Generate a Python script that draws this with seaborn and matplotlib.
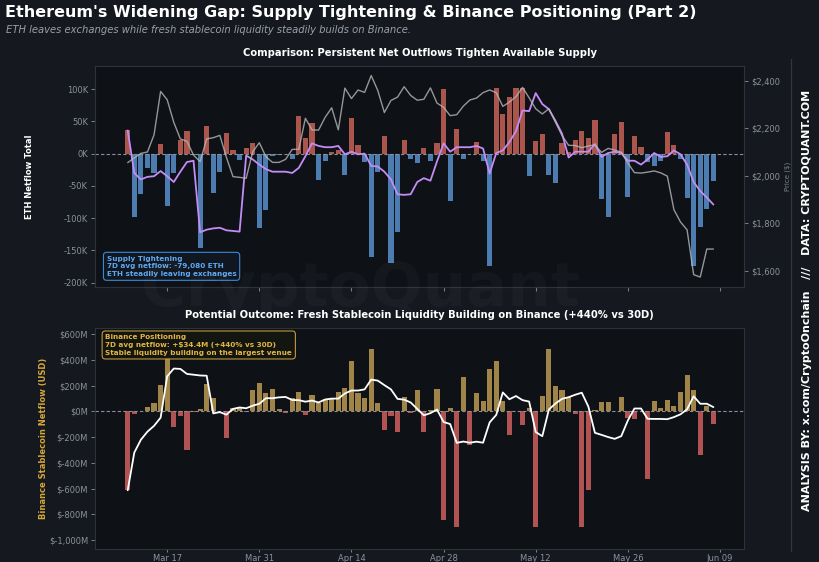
import numpy as np
import pandas as pd
import matplotlib
matplotlib.use("Agg")
import matplotlib.pyplot as plt
import matplotlib.dates as mdates
from matplotlib.ticker import FuncFormatter, FixedLocator
from matplotlib.lines import Line2D
import seaborn as sns

# ---------------- data ----------------
start_date = "2025-03-11"

# daily ETH exchange netflow (thousands of ETH)
eth_netflow_k = [37, -98, -62, -22, -30, 15, -81, -30, 21, 35,
                 -2, -147, 43, -61, -29, 32, 5, -10, 8, 17,
                 -115, -88, -3, -2, 0, -8, 58, 25, 48, -41,
                 -12, 2, 5, -33, 56, 14, -13, -160, -28, 27,
                 -170, -121, 21, -9, -15, 9, -12, 16, 101, -74,
                 39, -9, 0, 18, -11, -174, 102, 62, 88, 102,
                 102, -35, 20, 30, -33, -45, 16, 2, 21, 35,
                 24, 52, -71, -99, 31, 49, -67, 27, 10, -13,
                 -19, -11, 34, 13, -8, -69, -175, -114, -86, -42]

# 7D average ETH netflow (thousands of ETH)
eth_netflow_7d_k = [36, -30, -40, -36, -35, -27, -35, -44, -28, -13,
                    -11, -122, -118, -116, -115, -119, -120, -121, -3, -9,
                    -17, -24, -28, -28, -28, -30, -22, -4, 16, 12,
                    10, 10, 12, -1, 3, -1, 0, -19, -20, -28,
                    -40, -63, -64, -63, -44, -38, -42, -12, 16, 3,
                    10, 10, 10, 12, 8, -31, 1, 5, 18, 35,
                    67, 66, 94, 77, 69, 51, 31, -6, 3, 3,
                    3, 15, -5, 1, 3, 1, -11, -11, -17, -9,
                    1, -5, -4, 5, -1, -17, -44, -58, -68, -79]

# ETH price (USD)
eth_price = [2055, 2075, 2094, 2100, 2172, 2355, 2320, 2225, 2155, 2145,
             2087, 2059, 2155, 2160, 2170, 2077, 1996, 1993, 1989, 2101,
             2139, 2080, 2056, 2056, 2069, 2111, 2111, 2242, 2193, 2192,
             2246, 2286, 2193, 2369, 2325, 2361, 2351, 2422, 2359, 2266,
             2317, 2331, 2375, 2338, 2318, 2322, 2370, 2306, 2288, 2253,
             2257, 2293, 2319, 2327, 2350, 2361, 2350, 2292, 2310, 2333,
             2372, 2328, 2282, 2260, 2282, 2225, 2169, 2128, 2127, 2118,
             2125, 2130, 2098, 2115, 2108, 2099, 2053, 2013, 2011, 2015,
             2020, 2012, 1998, 1857, 1805, 1772, 1583, 1573, 1691, 1691]

# Binance stablecoin netflow (USD millions)
stable_netflow_m = [-613, -22, 0, 34, 65, 206, 420, -118, -35, -299,
                    -8, 23, 215, 105, 0, -205, 24, 33, -3, 169,
                    218, 143, 176, 21, -12, 107, 155, -24, 126, 63,
                    97, 97, 149, 185, 396, 142, 105, 485, 65, -141,
                    -37, -161, 109, -10, 166, -156, 15, 172, -842, 27,
                    -898, 266, -264, 143, 79, 328, 394, 84, -182, 0,
                    -102, 25, -898, 118, 485, 197, 168, 111, -18, -898,
                    -611, 8, 73, 73, 0, 113, -54, -55, 0, -528,
                    82, 25, 92, 46, 151, 280, 168, -341, 42, -96]

# 7D average stablecoin netflow (USD millions)
stable_netflow_7d_m = [-613, -320, -220, -157, -112, -48, 273, 334, 331, 292,
                       286, 280, 278, -15, -5, -25, 20, 31, 25, 45,
                       60, 103, 103, 110, 113, 89, 88, 76, 85, 70,
                       93, 100, 100, 140, 163, 163, 172, 248, 240, 205,
                       172, 98, 92, 70, 20, -30, -13, 15, -82, -98,
                       -244, -234, -243, -235, -243, -85, -27, 148, 95, 120,
                       88, 77, -160, -192, 15, 62, 98, 111, 130, 146,
                       38, -166, -182, -199, -213, -192, -70, 23, 23, -57,
                       -58, -58, -60, -44, -22, 17, 118, 60, 60, 34]

tick_dates = ["2025-03-17", "2025-03-31", "2025-04-14", "2025-04-28",
              "2025-05-12", "2025-05-26", "2025-06-09"]
tick_labels = ["Mar 17", "Mar 31", "Apr 14", "Apr 28", "May 12", "May 26", "Jun 09"]

netflow_ticks = [100000, 50000, 0, -50000, -100000, -150000, -200000]
price_ticks = [1600, 1800, 2000, 2200, 2400]
stable_ticks = [600, 400, 200, 0, -200, -400, -600, -800, -1000]

# ---------------- styling ----------------
FIG_BG = "#15191f"
AX_BG = "#0e1116"
SPINE = "#2c313a"
TICK = "#8b929c"
RED_TOP = "#b94a3e"
BLUE_TOP = "#3d7cc0"
PURPLE = "#c48cf6"
PRICE = "#b8b8b8"
GOLD = "#b08a38"
RED_BOT = "#c24343"

sns.set_theme(style="dark", rc={"axes.facecolor": AX_BG, "figure.facecolor": FIG_BG,
                                "axes.edgecolor": SPINE, "axes.grid": False})
plt.rcParams["font.family"] = ["DejaVu Sans"]

dates = pd.date_range(start_date, periods=len(eth_netflow_k), freq="D")
xnum = mdates.date2num(dates)

top = pd.DataFrame({
    "x": xnum,
    "net": np.array(eth_netflow_k) * 1000.0,
    "avg": np.array(eth_netflow_7d_k) * 1000.0,
    "price": eth_price,
})
top["sign"] = np.where(top["net"] >= 0, "in", "out")

bot = pd.DataFrame({
    "x": xnum,
    "net": stable_netflow_m,
    "avg": stable_netflow_7d_m,
})
bot["sign"] = np.where(bot["net"] >= 0, "in", "out")

fig = plt.figure(figsize=(8.19, 5.62), dpi=100)
fig.patch.set_facecolor(FIG_BG)

ax1 = fig.add_axes([0.116, 0.4893, 0.7925, 0.3932])
ax3 = fig.add_axes([0.116, 0.0231, 0.7925, 0.3932])
ax2 = ax1.twinx()

x_left = xnum[0] - 4.97
x_right = xnum[0] + 93.66

# ---- top panel ----
sns.barplot(data=top, x="x", y="net", hue="sign", palette={"in": RED_TOP, "out": BLUE_TOP},
            native_scale=True, width=0.78, dodge=False, errorbar=None, legend=False,
            linewidth=0, ax=ax1)
ax1.axhline(0, color="#8a8f98", lw=0.8, ls=(0, (3, 2)), zorder=1)
sns.lineplot(data=top, x="x", y="avg", color=PURPLE, lw=1.3, ax=ax1, zorder=4)
sns.lineplot(data=top, x="x", y="price", color=PRICE, lw=1.0, alpha=0.8, ax=ax2)

ax1.set_xlim(x_left, x_right)
ax1.set_ylim(-207000, 136000)
ax2.set_ylim(1531, 2462)

ax1.yaxis.set_major_locator(FixedLocator(netflow_ticks))
ax1.yaxis.set_major_formatter(FuncFormatter(lambda v, p: f"{v/1000:.0f}K"))
ax2.yaxis.set_major_locator(FixedLocator(price_ticks))
ax2.yaxis.set_major_formatter(FuncFormatter(lambda v, p: f"${v:,.0f}"))

ax1.set_title("Comparison: Persistent Net Outflows Tighten Available Supply",
              fontsize=7.2, weight="bold", color="white", pad=7)
ax1.set_ylabel("ETH Netflow Total", fontsize=6, weight="bold", color="white")
ax1.yaxis.set_label_coords(-0.094, 0.5)
ax1.set_xlabel("")
ax2.set_ylabel("Price ($)", fontsize=5, color="#7d838c", labelpad=3)

ax1.text(0.018, 0.045,
         "Supply Tightening\n7D avg netflow: -79,080 ETH\nETH steadily leaving exchanges",
         transform=ax1.transAxes, ha="left", va="bottom", fontsize=5.2, weight="bold",
         color="#5ea8ef", linespacing=1.35, zorder=10,
         bbox=dict(boxstyle="round,pad=0.45", fc="#111822", ec="#3f8fe0", lw=0.8, alpha=0.95))

# ---- bottom panel ----
sns.barplot(data=bot, x="x", y="net", hue="sign", palette={"in": GOLD, "out": RED_BOT},
            native_scale=True, width=0.78, dodge=False, errorbar=None, legend=False,
            linewidth=0, ax=ax3)
ax3.axhline(0, color="#8a8f98", lw=0.8, ls=(0, (3, 2)), zorder=1)
sns.lineplot(data=bot, x="x", y="avg", color="white", lw=1.3, ax=ax3, zorder=4)

ax3.set_xlim(x_left, x_right)
ax3.set_ylim(-1070, 649)
ax3.yaxis.set_major_locator(FixedLocator(stable_ticks))
ax3.yaxis.set_major_formatter(FuncFormatter(lambda v, p: f"${v:,.0f}M"))

ax3.set_title("Potential Outcome: Fresh Stablecoin Liquidity Building on Binance (+440% vs 30D)",
              fontsize=7.2, weight="bold", color="white", pad=7)
ax3.set_ylabel("Binance Stablecoin Netflow (USD)", fontsize=6, weight="bold", color="#d4a737")
ax3.yaxis.set_label_coords(-0.072, 0.5)
ax3.set_xlabel("")

ax3.text(0.016, 0.972,
         "Binance Positioning\n7D avg netflow: +$34.4M (+440% vs 30D)\nStable liquidity building on the largest venue",
         transform=ax3.transAxes, ha="left", va="top", fontsize=5.2, weight="bold",
         color="#e2b443", linespacing=1.35, zorder=10,
         bbox=dict(boxstyle="round,pad=0.45", fc="#141611", ec="#c9a040", lw=0.8, alpha=0.95))

# ---- x axis ----
tick_nums = mdates.date2num(pd.to_datetime(tick_dates))
ax1.xaxis.set_major_locator(FixedLocator(tick_nums))
ax1.xaxis.set_major_formatter(FuncFormatter(lambda v, p: ""))
ax3.set_xticks(tick_nums)
ax3.set_xticklabels(tick_labels)
ax1.tick_params(labelbottom=False)

for ax in (ax1, ax2, ax3):
    ax.tick_params(axis="both", colors=TICK, labelsize=6, length=3, width=0.6,
                   labelcolor=TICK, pad=2)
    for s in ax.spines.values():
        s.set_color(SPINE)
        s.set_linewidth(0.8)
    ax.grid(False)
ax1.tick_params(axis="x", bottom=True)
ax3.tick_params(axis="x", bottom=True, length=2.5, pad=0.8)
ax1.tick_params(axis="y", left=True)
ax3.tick_params(axis="y", left=True)
ax2.tick_params(axis="y", right=True)

# ---- figure texts ----
fig.text(0.006, 0.977, "Ethereum's Widening Gap: Supply Tightening & Binance Positioning (Part 2)",
         fontsize=11.5, weight="bold", color="white", va="center", ha="left")
fig.text(0.007, 0.947, "ETH leaves exchanges while fresh stablecoin liquidity steadily builds on Binance.",
         fontsize=7.2, style="italic", color="#9aa0a8", va="center", ha="left")

fig.text(0.44, 0.485, "CryptoQuant", fontsize=44, weight="bold", color="white",
         alpha=0.028, ha="center", va="center")

fig.add_artist(Line2D([0.9655, 0.9655], [0.02, 0.895], color="#30353e", lw=0.9))
fig.text(0.985, 0.466, "ANALYSIS BY: x.com/CryptoOnchain   ///   DATA: CRYPTOQUANT.COM",
         rotation=90, fontsize=8, weight="bold", color="white", ha="center", va="center")

fig.savefig("out.png", dpi=100, facecolor=FIG_BG)
